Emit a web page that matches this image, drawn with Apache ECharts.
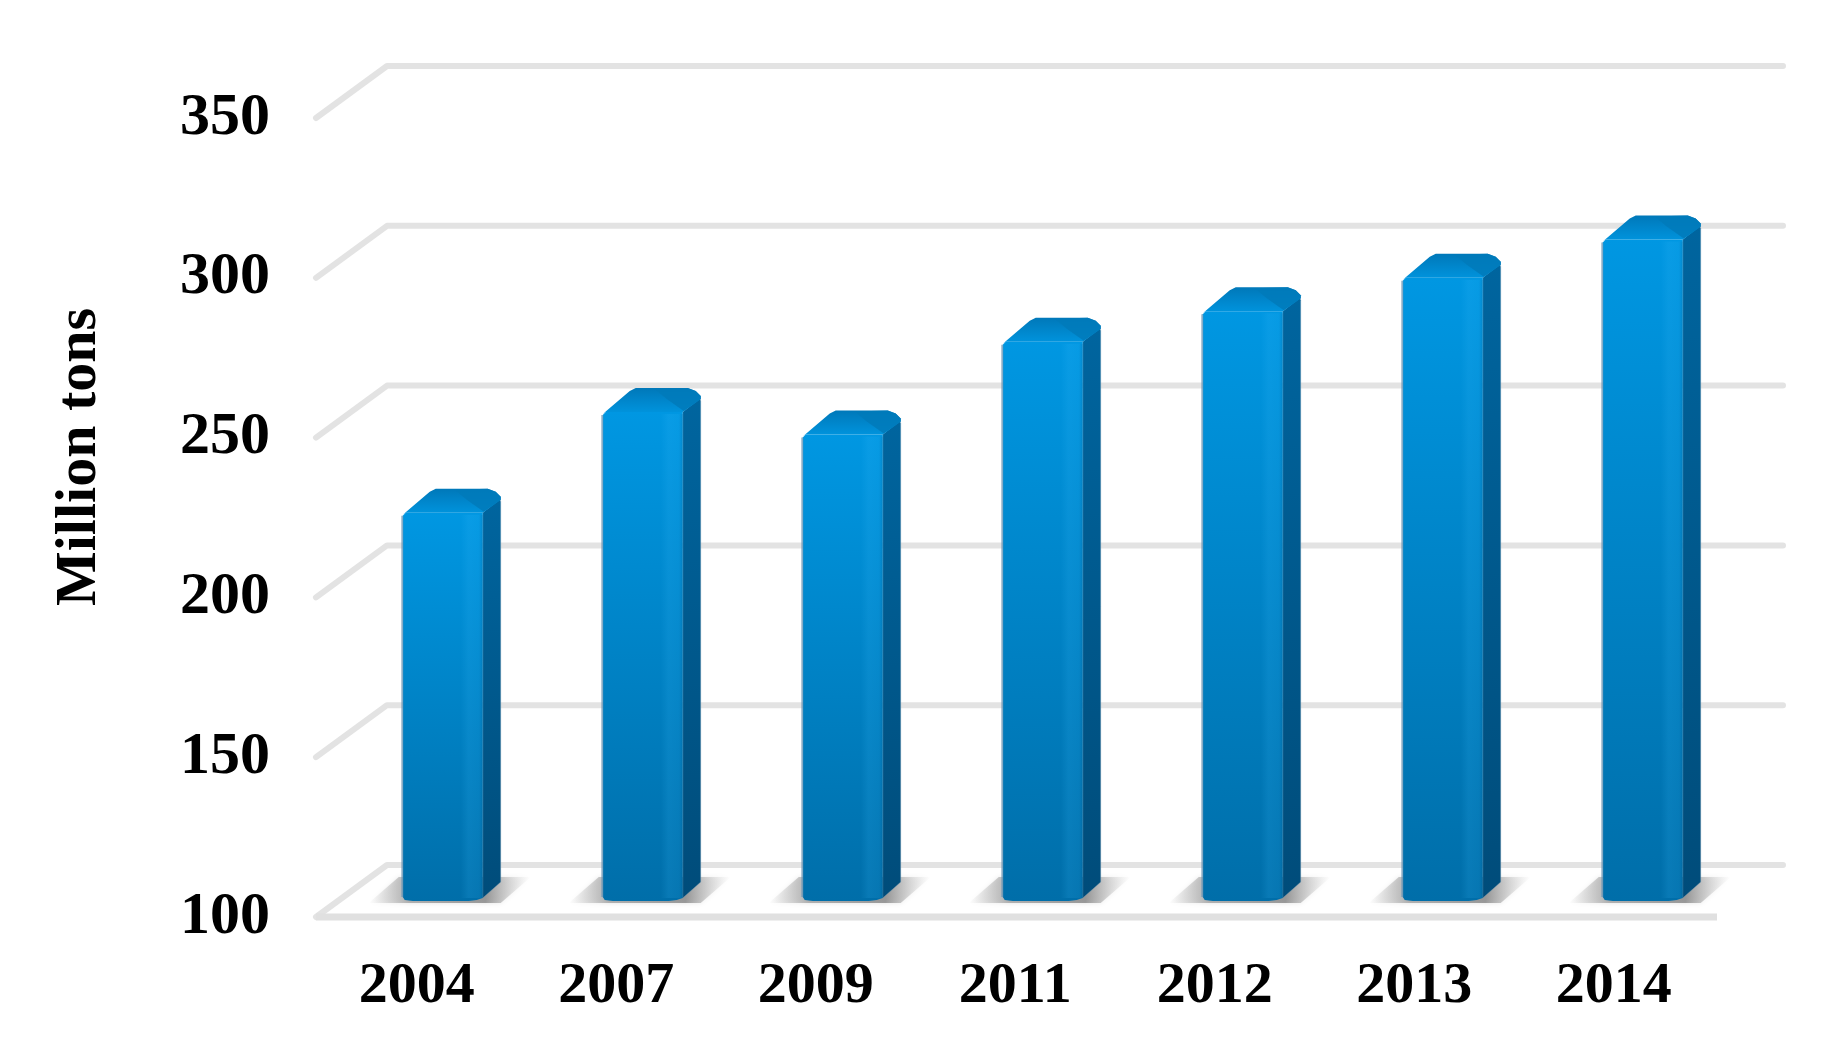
<!DOCTYPE html>
<html>
<head>
<meta charset="utf-8">
<title>Million tons</title>
<style>
  html, body { margin: 0; padding: 0; background: #fff; }
  #main { width: 1848px; height: 1040px; }
</style>
<script src="https://cdn.jsdelivr.net/npm/echarts@6/dist/echarts.min.js"></script>
</head>
<body>
<div id="main"></div>
<script>
// 数据
const years = ["2004", "2007", "2009", "2011", "2012", "2013", "2014"];
const tons = [221.5, 253, 246, 275, 284.5, 295, 307];
const yTicks = [100, 150, 200, 250, 300, 350];

const FONT = '"Liberation Serif", serif';
let myCharts = echarts.init(document.getElementById("main"));

function vGrad(a, b) {
  return new echarts.graphic.LinearGradient(0, 0, 0, 1, [
    { offset: 0, color: a },
    { offset: 1, color: b }
  ]);
}

// 背景网格：每个刻度一条折线（左侧斜线 + 后墙横线）
function renderWall(params, api) {
  let cs = params.coordSys;
  let y = api.coord([0, api.value(1)])[1];
  let left = cs.x - 1, right = cs.x + cs.width + 3.5;
  let children = [{
    type: "polyline",
    shape: { points: [[left, y], [left + 71, y - 52], [right + 66, y - 52]] },
    style: { stroke: "#e3e3e3", lineWidth: 6, fill: null, lineJoin: "round", lineCap: "round" }
  }];
  // 地板前沿
  if (params.dataIndex === 0) {
    children.push({
      type: "line",
      shape: { x1: left, y1: y, x2: right, y2: y },
      style: { stroke: "#e0e0e0", lineWidth: 7 }
    });
  }
  return { type: "group", children };
}

// 立体柱子：正面、侧面、顶面都由 api.coord 得到的位置算出
function renderBar(params, api) {
  let i = api.value(0);
  let p = api.coord([i, api.value(1)]);
  let base = api.coord([i, 100]);
  let cx = p[0] + 26 + i * 0.5; // 透视：越往右偏移越大
  let L = cx - 40, R = cx + 40;
  let top = p[1] - 16, bot = base[1] - 16;
  let sideW = 18;

  return {
    type: "group",
    children: [
      // 地面阴影
      {
        type: "polygon",
        shape: { points: [[L - 34, bot + 2], [L - 4, bot - 24], [R + 48, bot - 24], [R + 18, bot + 2]] },
        style: {
          fill: new echarts.graphic.LinearGradient(0, 0, 1, 0, [
            { offset: 0, color: "rgba(170,170,170,0)" },
            { offset: 0.25, color: "rgba(150,150,150,0.7)" },
            { offset: 0.72, color: "rgba(125,125,125,0.75)" },
            { offset: 1, color: "rgba(190,190,190,0)" }
          ]),
          shadowBlur: 5,
          shadowColor: "rgba(170,170,170,0.5)"
        }
      },
      // 侧面
      {
        type: "polygon",
        shape: { points: [[R, top], [R + sideW - 1, top - 14], [R + sideW, top - 11], [R + sideW, bot - 19], [R, bot - 3]] },
        style: { fill: vGrad("#00659f", "#004c7a"), stroke: "rgba(130,160,180,0.4)", lineWidth: 1 }
      },
      // 正面
      {
        type: "polygon",
        shape: { points: [[L, top + 3], [L + 3, top], [R, top], [R, bot - 3], [R - 6, bot - 1], [R - 14, bot], [L + 10, bot], [L + 2, bot - 1], [L, bot - 4]] },
        style: { fill: vGrad("#0097e2", "#006ea9") }
      },
      // 正面右边的高光
      {
        type: "rect",
        shape: { x: R - 22, y: top + 2, width: 22, height: bot - top - 5 },
        style: {
          fill: new echarts.graphic.LinearGradient(0, 0, 1, 0, [
            { offset: 0, color: "rgba(60,190,255,0)" },
            { offset: 0.35, color: "rgba(60,190,255,0.14)" },
            { offset: 0.8, color: "rgba(60,190,255,0.10)" },
            { offset: 1, color: "rgba(0,70,120,0.22)" }
          ])
        }
      },
      // 左边缘
      {
        type: "line",
        shape: { x1: L - 0.5, y1: top + 3, x2: L - 0.5, y2: bot - 4 },
        style: { stroke: "rgba(110,150,180,0.7)", lineWidth: 2 }
      },
      // 顶面
      {
        type: "polygon",
        shape: { points: [[L, top + 2], [L + 27, top - 21], [L + 33, top - 24], [R + 5, top - 24], [R + 13, top - 21], [R + 18, top - 16], [R + 18, top - 13], [R, top], [L + 3, top]] },
        style: { fill: vGrad("#0078b9", "#0095df") }
      },
      // 顶面右后方的暗面
      {
        type: "polygon",
        shape: { points: [[R - 16, top - 13], [R - 28, top - 23], [R + 5, top - 24], [R + 13, top - 21], [R + 18, top - 16], [R + 18, top - 13], [R + 1, top - 1]] },
        style: { fill: "rgba(0,122,186,0.85)" }
      }
    ]
  };
}

myCharts.setOption({
  animation: false,
  backgroundColor: "#fff",
  grid: { left: 317, right: 134.5, top: 118, bottom: 123 },
  xAxis: {
    type: "category",
    data: years,
    axisLine: { show: false },
    axisTick: { show: false },
    splitLine: { show: false },
    axisLabel: {
      margin: 41,
      color: "#000",
      fontFamily: FONT,
      fontWeight: "bold",
      fontSize: 58
    }
  },
  yAxis: {
    type: "value",
    min: 100,
    max: 350,
    interval: 50,
    axisLine: { show: false },
    axisTick: { show: false },
    splitLine: { show: false },
    axisLabel: {
      margin: 47,
      padding: [11, 0, 0, 0],
      color: "#000",
      fontFamily: FONT,
      fontWeight: "bold",
      fontSize: 60
    }
  },
  graphic: [{
    type: "text",
    x: 80,
    y: 457,
    rotation: Math.PI / 2,
    style: {
      text: "Million tons",
      fill: "#000",
      font: 'bold 58px "Liberation Serif", serif',
      textAlign: "center",
      textVerticalAlign: "middle"
    }
  }],
  series: [
    {
      type: "custom",
      renderItem: renderWall,
      clip: false,
      silent: true,
      z: 1,
      data: yTicks.map(t => [0, t])
    },
    {
      type: "custom",
      renderItem: renderBar,
      clip: false,
      z: 2,
      encode: { x: 0, y: 1 },
      data: years.map((y, idx) => [idx, tons[idx]])
    }
  ]
});
</script>
</body>
</html>
